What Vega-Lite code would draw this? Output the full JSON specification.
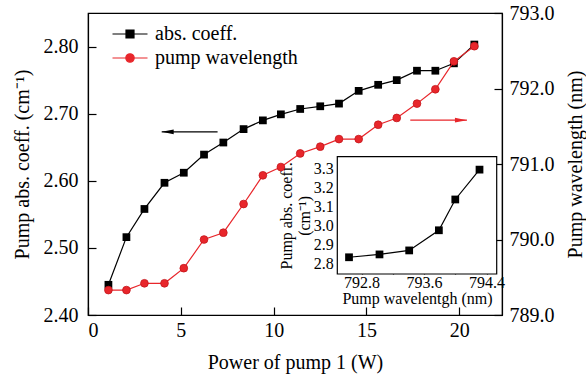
{
  "$schema": "https://vega.github.io/schema/vega-lite/v6.json",
  "width": 414,
  "height": 302,
  "autosize": {"type": "none"},
  "padding": {"left": 88, "top": 13, "right": 84, "bottom": 59},
  "background": "white",
  "config": {
    "font": "Liberation Serif, serif",
    "view": {"stroke": "black", "strokeWidth": 1.2},
    "axis": {
      "domainColor": "black", "domainWidth": 1.2, "tickColor": "black", "tickWidth": 1.2,
      "labelColor": "black", "titleColor": "black", "titleFontWeight": "normal", "grid": false,
      "labelFont": "Liberation Serif, serif", "titleFont": "Liberation Serif, serif", "labelFontSize": 20, "titleFontSize": 20
    }
  },
  "datasets": {
    "main": [
      {"P": 1.10, "abs": 2.445, "wl": 789.33},
      {"P": 2.07, "abs": 2.516, "wl": 789.33},
      {"P": 3.04, "abs": 2.558, "wl": 789.42},
      {"P": 4.12, "abs": 2.597, "wl": 789.42},
      {"P": 5.16, "abs": 2.612, "wl": 789.62},
      {"P": 6.25, "abs": 2.639, "wl": 790.00},
      {"P": 7.29, "abs": 2.657, "wl": 790.09},
      {"P": 8.38, "abs": 2.677, "wl": 790.47},
      {"P": 9.42, "abs": 2.690, "wl": 790.85},
      {"P": 10.39, "abs": 2.699, "wl": 790.96},
      {"P": 11.43, "abs": 2.707, "wl": 791.14},
      {"P": 12.51, "abs": 2.711, "wl": 791.23},
      {"P": 13.52, "abs": 2.715, "wl": 791.33},
      {"P": 14.58, "abs": 2.734, "wl": 791.33},
      {"P": 15.63, "abs": 2.743, "wl": 791.52},
      {"P": 16.63, "abs": 2.750, "wl": 791.61},
      {"P": 17.72, "abs": 2.764, "wl": 791.80},
      {"P": 18.71, "abs": 2.764, "wl": 791.99},
      {"P": 19.71, "abs": 2.775, "wl": 792.36},
      {"P": 20.81, "abs": 2.803, "wl": 792.56}
    ],
    "arrowL": [{"P": 3.97, "P2": 6.98, "abs": 2.673}],
    "arrowR": [{"P": 17.36, "P2": 20.41, "wl": 791.58}],
    "inset": [
      {"w": 792.64, "a": 2.832},
      {"w": 793.03, "a": 2.847},
      {"w": 793.41, "a": 2.868},
      {"w": 793.79, "a": 2.974},
      {"w": 794.00, "a": 3.136},
      {"w": 794.31, "a": 3.293}
    ],
    "frame": [{"w": 792.49, "w2": 794.53, "a": 2.744, "a2": 3.361}]
  },
  "resolve": {
    "scale": {"x": "independent", "y": "independent"},
    "axis": {"x": "independent", "y": "independent"}
  },
  "layer": [
    {
      "layer": [
        {
          "data": {"name": "main"},
          "mark": {"type": "line", "color": "black", "strokeWidth": 1.2},
          "encoding": {
            "x": {"field": "P", "type": "quantitative", "title": "Power of pump 1 (W)",
              "scale": {"domain": [0, 22.3], "nice": false, "zero": false},
              "axis": {"orient": "bottom", "values": [0, 5, 10, 15, 20], "format": "d", "tickSize": -8, "labelPadding": 13, "titlePadding": 12}},
            "y": {"field": "abs", "type": "quantitative", "title": "Pump abs. coeff. (cm⁻¹)",
              "scale": {"domain": [2.40, 2.85], "nice": false, "zero": false},
              "axis": {"orient": "left", "values": [2.40, 2.45, 2.50, 2.55, 2.60, 2.65, 2.70, 2.75, 2.80],
                "labelExpr": "round(datum.value*100) % 10 == 0 ? format(datum.value, '.2f') : ''",
                "tickSize": -8, "labelPadding": 18, "titlePadding": 11}}
          }
        },
        {
          "data": {"name": "main"},
          "mark": {"type": "point", "shape": "square", "filled": true, "size": 60, "opacity": 1},
          "encoding": {
            "x": {"field": "P", "type": "quantitative", "title": "Power of pump 1 (W)"},
            "y": {"field": "abs", "type": "quantitative", "title": "Pump abs. coeff. (cm⁻¹)"},
            "color": {"datum": "abs. coeff.",
              "scale": {"domain": ["abs. coeff.", "pump wavelength"], "range": ["black", "#e8262b"]},
              "legend": {
                "orient": "none", "legendX": 31, "legendY": 10, "title": null, "padding": 0,
                "symbolSize": 400, "labelFontSize": 20, "labelFont": "Liberation Serif, serif", "labelColor": "black",
                "labelOffset": 14, "rowPadding": 3, "symbolStrokeWidth": 1.2,
                "symbolType": {"expr": "datum.value === 'abs. coeff.' ? 'M-1.75,0H-0.4M0.4,0H1.75M-0.4,-0.4H0.4V0.4H-0.4Z' : 'M-1.75,0H-0.42M0.42,0H1.75M-0.42,0A0.42,0.42,0,1,0,0.42,0A0.42,0.42,0,1,0,-0.42,0Z'"},
                "symbolStrokeColor": {"expr": "datum.value === 'abs. coeff.' ? 'black' : '#e8262b'"}
              }}
          }
        },
        {
          "data": {"name": "arrowL"},
          "mark": {"type": "rule", "color": "black", "strokeWidth": 1.2},
          "encoding": {
            "x": {"field": "P", "type": "quantitative", "title": "Power of pump 1 (W)"},
            "x2": {"field": "P2"},
            "y": {"field": "abs", "type": "quantitative", "title": "Pump abs. coeff. (cm⁻¹)"}
          }
        },
        {
          "data": {"name": "arrowL"},
          "mark": {"type": "point", "shape": "M0,0L2,-0.4L2,0.4Z", "filled": true, "size": 144, "color": "black", "opacity": 1},
          "encoding": {
            "x": {"field": "P", "type": "quantitative", "title": "Power of pump 1 (W)"},
            "y": {"field": "abs", "type": "quantitative", "title": "Pump abs. coeff. (cm⁻¹)"}
          }
        }
      ]
    },
    {
      "layer": [
        {
          "data": {"name": "main"},
          "mark": {"type": "line", "color": "#e8262b", "strokeWidth": 1.2},
          "encoding": {
            "x": {"field": "P", "type": "quantitative", "scale": {"domain": [0, 22.3], "nice": false, "zero": false}, "axis": null},
            "y": {"field": "wl", "type": "quantitative", "title": "Pump wavelength (nm)",
              "scale": {"domain": [789, 793], "nice": false, "zero": false},
              "axis": {"orient": "right", "values": [789, 790, 791, 792, 793], "format": ".1f",
                "tickSize": -8, "labelPadding": 15, "titlePadding": 11, "titleAngle": 270, "titleBaseline": "top"}}
          }
        },
        {
          "data": {"name": "main"},
          "mark": {"type": "point", "shape": "circle", "filled": true, "size": 60, "opacity": 1, "stroke": "#c4161c", "strokeWidth": 0.8},
          "encoding": {
            "x": {"field": "P", "type": "quantitative"},
            "y": {"field": "wl", "type": "quantitative", "title": "Pump wavelength (nm)"},
            "color": {"datum": "pump wavelength"}
          }
        },
        {
          "data": {"name": "arrowR"},
          "mark": {"type": "rule", "color": "#e8262b", "strokeWidth": 1.2},
          "encoding": {
            "x": {"field": "P", "type": "quantitative"},
            "x2": {"field": "P2"},
            "y": {"field": "wl", "type": "quantitative", "title": "Pump wavelength (nm)"}
          }
        },
        {
          "data": {"name": "arrowR"},
          "mark": {"type": "point", "shape": "M0,0L-2,-0.4L-2,0.4Z", "filled": true, "size": 144, "color": "#e8262b", "opacity": 1},
          "encoding": {
            "x": {"field": "P2", "type": "quantitative"},
            "y": {"field": "wl", "type": "quantitative", "title": "Pump wavelength (nm)"}
          }
        }
      ]
    },
    {
      "layer": [
        {
          "data": {"name": "frame"},
          "mark": {"type": "rect", "fill": "white", "stroke": "black", "strokeWidth": 1.2},
          "encoding": {
            "x": {"field": "w", "type": "quantitative", "title": "Pump wavelentgh (nm)",
              "scale": {"domain": [792.49, 794.53], "range": [249.3, 408.7], "nice": false, "zero": false},
              "axis": {"orient": "bottom", "offset": -41, "domain": false,
                "values": [792.8, 793.2, 793.6, 794.0, 794.4],
                "labelExpr": "round(datum.value*10) % 8 == 0 ? format(datum.value, '.1f') : ''",
                "tickSize": -6, "labelPadding": 6, "titlePadding": 0, "labelFontSize": 16, "titleFontSize": 16}},
            "x2": {"field": "w2"},
            "y": {"field": "a", "type": "quantitative", "title": ["Pump abs. coeff.", "(cm⁻¹)"],
              "scale": {"domain": [2.744, 3.361], "range": [261, 143.7], "nice": false, "zero": false},
              "axis": {"orient": "left", "offset": -249.3, "domain": false,
                "values": [2.8, 2.9, 3.0, 3.1, 3.2, 3.3], "format": ".1f",
                "tickSize": -5, "labelPadding": 9, "titlePadding": 1, "labelFontSize": 16, "titleFontSize": 16}},
            "y2": {"field": "a2"}
          }
        },
        {
          "data": {"name": "inset"},
          "mark": {"type": "line", "color": "black", "strokeWidth": 1.2},
          "encoding": {
            "x": {"field": "w", "type": "quantitative", "title": "Pump wavelentgh (nm)"},
            "y": {"field": "a", "type": "quantitative", "title": ["Pump abs. coeff.", "(cm⁻¹)"]}
          }
        },
        {
          "data": {"name": "inset"},
          "mark": {"type": "point", "shape": "square", "filled": true, "size": 60, "color": "black", "opacity": 1},
          "encoding": {
            "x": {"field": "w", "type": "quantitative", "title": "Pump wavelentgh (nm)"},
            "y": {"field": "a", "type": "quantitative", "title": ["Pump abs. coeff.", "(cm⁻¹)"]}
          }
        }
      ]
    }
  ]
}
